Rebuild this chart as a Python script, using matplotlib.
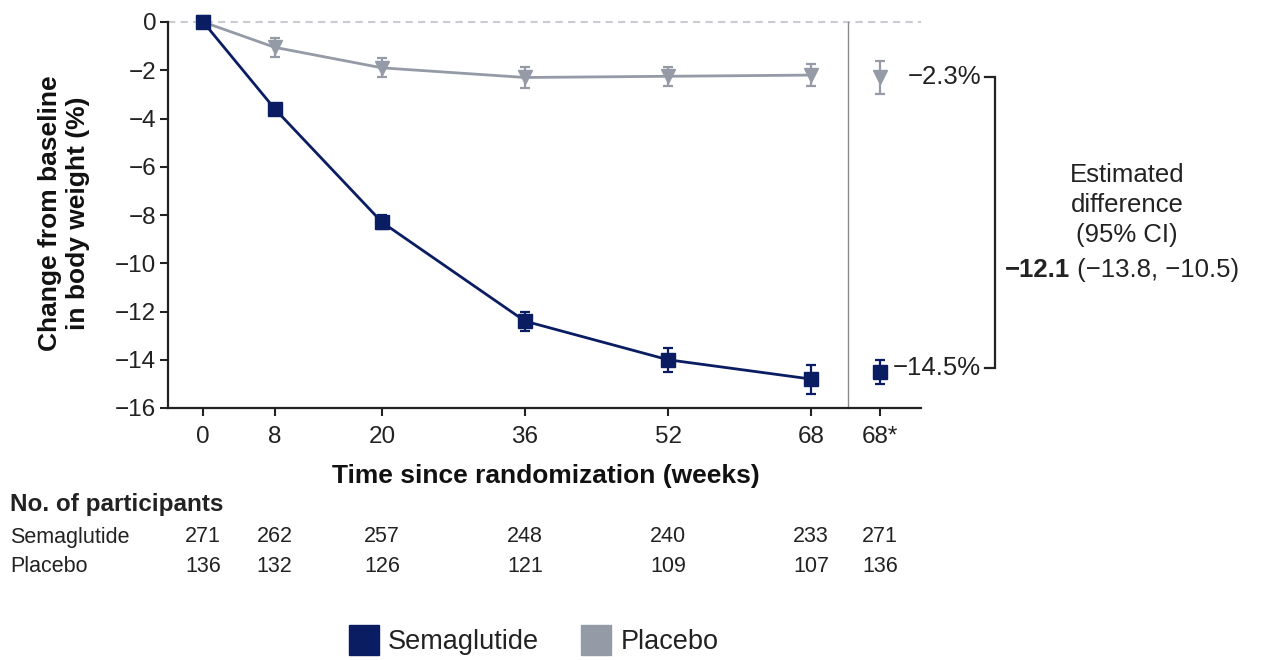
import matplotlib
matplotlib.use("Agg")
import matplotlib.pyplot as plt
from matplotlib.lines import Line2D
from matplotlib.transforms import blended_transform_factory

plt.rcParams["font.family"] = ["Liberation Sans", "DejaVu Sans"]

# ---- data -------------------------------------------------------------
weeks = [0, 8, 20, 36, 52, 68]
tick_labels = ["0", "8", "20", "36", "52", "68", "68*"]
final_pos = 75.7          # position of the separate week-68 estimate column

sema_mean = [0.0, -3.6, -8.3, -12.4, -14.0, -14.8]
sema_err = [0.0, 0.2, 0.3, 0.4, 0.5, 0.6]
plac_mean = [0.0, -1.05, -1.9, -2.3, -2.25, -2.2]
plac_err = [0.0, 0.4, 0.4, 0.45, 0.4, 0.45]

sema_final, sema_final_err = -14.5, 0.5
plac_final, plac_final_err = -2.3, 0.7

n_sema = [271, 262, 257, 248, 240, 233, 271]
n_plac = [136, 132, 126, 121, 109, 107, 136]

diff_est = "\u221212.1"
diff_ci = " (\u221213.8, \u221210.5)"

# ---- style ------------------------------------------------------------
SEMA = "#0a1d63"
PLAC = "#949ba7"
TXT = "#222222"
W, H = 1267, 660

fig = plt.figure(figsize=(W / 100, H / 100), dpi=100)
ax = fig.add_axes([168 / W, 1 - 408 / H, (921 - 168) / W, (408 - 22) / H])
ax.set_xlim(-3.94, 80.3)
ax.set_ylim(-16, 0)

# zero reference line
ax.axhline(0, color="#c9ccd2", lw=1.5, ls=(0, (3.5, 2.5)), zorder=0, clip_on=False)
# separator before the final estimate column
ax.plot([72.1, 72.1], [-16, 0], color="#8a8a8a", lw=1.0, clip_on=False, zorder=1)

ekw = dict(capsize=3.8, elinewidth=1.6, capthick=1.6, clip_on=False)
ax.errorbar(weeks, plac_mean, yerr=plac_err, color=PLAC, lw=2.0, marker="v",
            ms=10, zorder=3, **ekw)
ax.errorbar(weeks, sema_mean, yerr=sema_err, color=SEMA, lw=2.0, marker="s",
            ms=10, zorder=4, **ekw)
ax.errorbar([final_pos], [plac_final], yerr=[plac_final_err], color=PLAC,
            marker="v", ms=10, ls="none", zorder=3, **ekw)
ax.errorbar([final_pos], [sema_final], yerr=[sema_final_err], color=SEMA,
            marker="s", ms=10, ls="none", zorder=4, **ekw)

# axes styling
for s in ("top", "right"):
    ax.spines[s].set_visible(False)
for s in ("left", "bottom"):
    ax.spines[s].set_linewidth(1.6)
    ax.spines[s].set_color("#222222")
ax.set_yticks(range(-16, 1, 2))
ax.set_xticks(weeks + [final_pos])
ax.set_xticklabels(tick_labels)
ax.tick_params(axis="both", direction="out", length=6, width=1.5,
               labelsize=17.5, colors="#222222", labelcolor=TXT)
ax.tick_params(axis="x", pad=7)
ax.tick_params(axis="y", pad=2.5)

fig.text(546 / W, 1 - 476 / H, "Time since randomization (weeks)",
         ha="center", va="center", fontsize=19, fontweight="bold", color="#111111")
fig.text(64 / W, 1 - 213 / H, "Change from baseline\nin body weight (%)",
         rotation=90, ha="center", va="center", ma="center", fontsize=19,
         fontweight="bold", color="#111111", linespacing=1.25)

# value labels and bracket for the treatment difference
ax.text(87.0, plac_final, "\u22122.3%", ha="right", va="center", fontsize=18.5,
        color=TXT, clip_on=False)
ax.text(87.0, sema_final + 0.15, "\u221214.5%", ha="right", va="center", fontsize=18.5,
        color=TXT, clip_on=False)
bx, bt = 88.6, 87.5
ax.plot([bt, bx, bx, bt], [plac_final, plac_final, sema_final + 0.15, sema_final + 0.15],
        color="#222222", lw=1.6, clip_on=False, solid_joinstyle="miter")

fig.text(1127 / W, 1 - 205 / H, "Estimated\ndifference\n(95% CI)", ha="center",
         va="center", ma="center", fontsize=18.5, color=TXT, linespacing=1.3)
fig.text(1070 / W, 1 - 270 / H, diff_est, ha="right", va="center", fontsize=18.5,
         fontweight="bold", color=TXT)
fig.text(1070 / W, 1 - 270 / H, diff_ci, ha="left", va="center", fontsize=18.5,
         color=TXT)

# number-at-risk table
fig.text(10 / W, 1 - 504 / H, "No. of participants", ha="left", va="center",
         fontsize=17.5, fontweight="bold", color=TXT)
fig.text(10 / W, 1 - 537 / H, "Semaglutide", ha="left", va="center",
         fontsize=15.5, color=TXT)
fig.text(10 / W, 1 - 566 / H, "Placebo", ha="left", va="center",
         fontsize=15.5, color=TXT)
tr = blended_transform_factory(ax.transData, fig.transFigure)
cols = weeks + [final_pos]
for x, a, b in zip(cols, n_sema, n_plac):
    fig.text(x, 1 - 537 / H, str(a), transform=tr, ha="center", va="center",
             fontsize=15.5, color=TXT)
    fig.text(x, 1 - 566 / H, str(b), transform=tr, ha="center", va="center",
             fontsize=15.5, color=TXT)

# legend
handles = [Line2D([], [], marker="s", ls="none", color=SEMA, ms=21),
           Line2D([], [], marker="s", ls="none", color=PLAC, ms=21)]
fig.legend(handles, ["Semaglutide", "Placebo"], loc="center",
           bbox_to_anchor=(533 / W, 1 - 642 / H), ncol=2, frameon=False,
           fontsize=19.5, handletextpad=0.3, columnspacing=1.5, handlelength=1.2,
           labelcolor=TXT)

fig.savefig("out.png", dpi=100, facecolor="white")
